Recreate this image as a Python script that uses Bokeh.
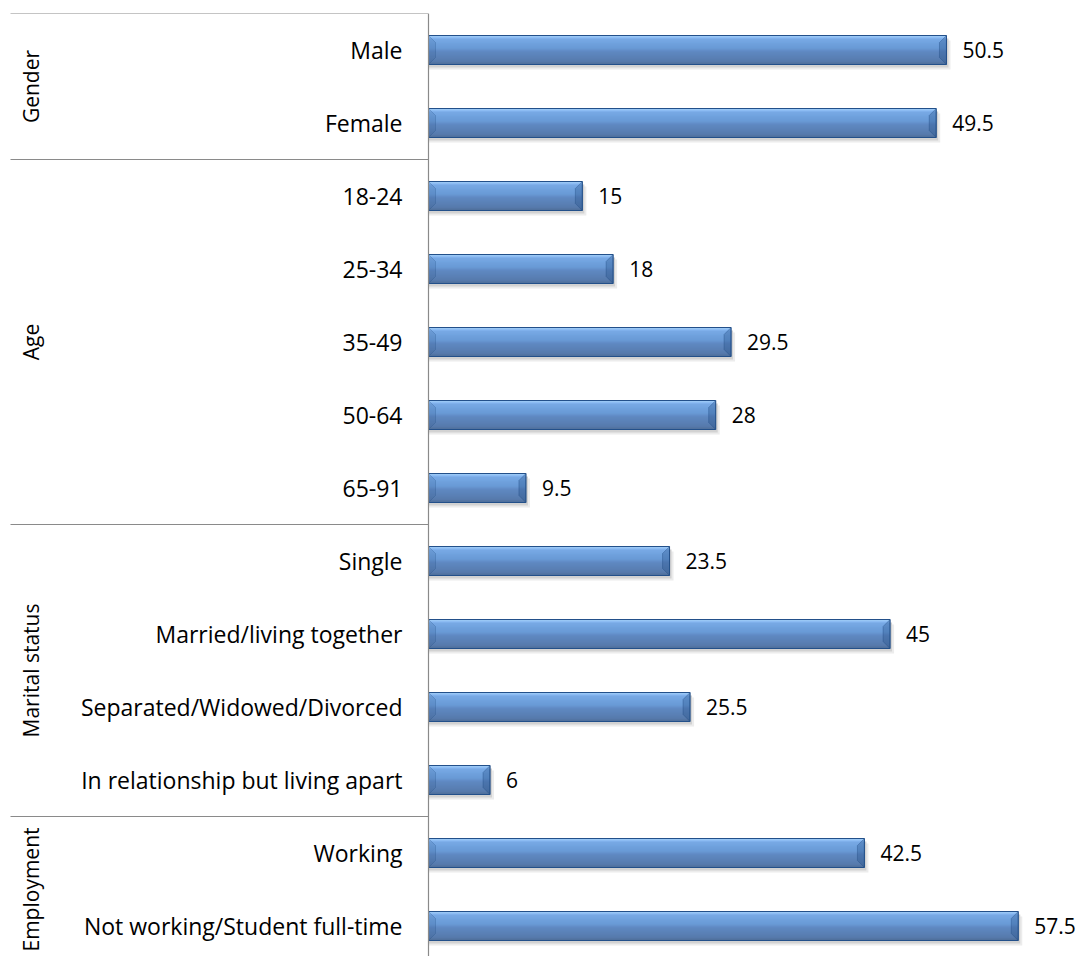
import numpy as np
from bokeh.plotting import figure
from bokeh.models import Range1d, Span, ColumnDataSource
from bokeh.core.properties import value
from bokeh.embed import file_html
from bokeh.resources import INLINE

# ---- data ----
groups = ["Gender", "Age", "Marital status", "Employment"]
group_sizes = [2, 5, 4, 2]
categories = ["Male", "Female",
              "18-24", "25-34", "35-49", "50-64", "65-91",
              "Single", "Married/living together", "Separated/Widowed/Divorced",
              "In relationship but living apart",
              "Working", "Not working/Student full-time"]
values = [50.5, 49.5, 15, 18, 29.5, 28, 9.5, 23.5, 45, 25.5, 6, 42.5, 57.5]
value_labels = ["50.5", "49.5", "15", "18", "29.5", "28", "9.5", "23.5", "45", "25.5", "6", "42.5", "57.5"]

# ---- layout constants (pixels) ----
W, H = 1084, 956
TOP = 13                # frame top inside figure
BAND = 73.0             # px per category
PXU = 10.257            # px per value unit
AXIS_X = 428            # axis position inside figure (px)
BAR_H = 29 / BAND
FONT = "Open Sans"

pos = np.arange(len(categories), dtype=float)
vals = np.array(values, dtype=float)

x0 = -AXIS_X / PXU
x1 = (W - AXIS_X) / PXU
y_bottom = -0.5 + (H - TOP) / BAND

p = figure(width=W, height=H, output_backend="svg", toolbar_location=None,
           x_range=Range1d(x0, x1), y_range=Range1d(y_bottom, -0.5),
           min_border_left=0, min_border_right=0, min_border_top=TOP, min_border_bottom=0,
           background_fill_color="white", border_fill_color="white")
p.xaxis.visible = False
p.yaxis.visible = False
p.xgrid.visible = False
p.ygrid.visible = False
p.outline_line_color = None

# ---- shadows ----
d = 1.0 / BAND
p.hbar(y=pos + 5 * d, left=0, right=vals + 4 / PXU, height=BAR_H,
       fill_color="#ececec", line_color=None)
p.hbar(y=pos + 3 * d, left=0, right=vals + 2 / PXU, height=BAR_H,
       fill_color="#d2d2d2", line_color=None)

# ---- bars with simulated gradient ----
stops = [(0.0, (0x8c, 0xc4, 0xf5)), (0.1, (0x5b, 0x9d, 0xed)), (0.45, (0x46, 0x86, 0xd6)),
         (0.55, (0x3a, 0x72, 0xbd)), (0.9, (0x2d, 0x5d, 0x9f)), (1.0, (0x23, 0x4d, 0x85))]

def col_at(t):
    for (t0, c0), (t1, c1) in zip(stops[:-1], stops[1:]):
        if t0 <= t <= t1:
            f = 0 if t1 == t0 else (t - t0) / (t1 - t0)
            return "#%02x%02x%02x" % tuple(int(round(a + (b - a) * f)) for a, b in zip(c0, c1))
    return "#%02x%02x%02x" % stops[-1][1]

N = 29
for k in range(N):
    t = (k + 0.5) / N
    yc = pos - BAR_H / 2 + (k + 0.5) * BAR_H / N
    p.hbar(y=yc, left=0, right=vals, height=BAR_H / N * 1.08,
           fill_color=col_at(t), line_color=None)

# bevel end faces (trapezoids)
bx = 7 / PXU
by = 7 / BAND
top = pos - BAR_H / 2
bot = pos + BAR_H / 2
r_xs = [[v, v - bx, v - bx, v] for v in vals]
r_ys = [[t_, t_ + by, b_ - by, b_] for t_, b_ in zip(top, bot)]
p.patches(xs=r_xs, ys=r_ys, fill_color="#1f4a80", fill_alpha=0.3,
          line_color="#1f4a80", line_alpha=0.45, line_width=0.8)
l_xs = [[0, bx, bx, 0] for v in vals]
p.patches(xs=l_xs, ys=r_ys, fill_color="#1f4a80", fill_alpha=0.15,
          line_color="#1f4a80", line_alpha=0.3, line_width=0.8)
# outline
p.hbar(y=pos, left=0, right=vals, height=BAR_H, fill_color=None,
       line_color="#23508a", line_width=1)

# ---- value labels ----
src = ColumnDataSource(dict(y=pos, x=vals, t=value_labels))
p.text(x="x", y="y", text="t", source=src, x_offset=16, text_align="left",
       text_baseline="middle", text_font=value(FONT), text_font_size="21px",
       text_color="#000000")

# ---- category labels ----
src2 = ColumnDataSource(dict(y=pos, x=np.zeros_like(pos), t=categories))
p.text(x="x", y="y", text="t", source=src2, x_offset=-26, text_align="right",
       text_baseline="middle", text_font=value(FONT), text_font_size="23px",
       text_color="#000000")

# ---- group labels and separators ----
starts = np.concatenate([[0], np.cumsum(group_sizes)[:-1]]).astype(float)
centers = starts + (np.array(group_sizes) - 1) / 2.0
p.text(x=[x0] * len(groups), y=centers, text=groups, x_offset=30, angle=np.pi / 2,
       text_align="center", text_baseline="middle", text_font=value(FONT),
       text_font_size="21px", text_color="#000000")

bounds = starts - 0.5
p.segment(x0=[x0 + 10 / PXU] * len(bounds), y0=bounds, x1=[0] * len(bounds), y1=bounds,
          line_color="#8a8a8a", line_width=1.2)

# axis line
p.add_layout(Span(location=0, dimension="height", line_color="#8a8a8a", line_width=1.2))

open("out.html", "w").write(file_html(p, INLINE))
